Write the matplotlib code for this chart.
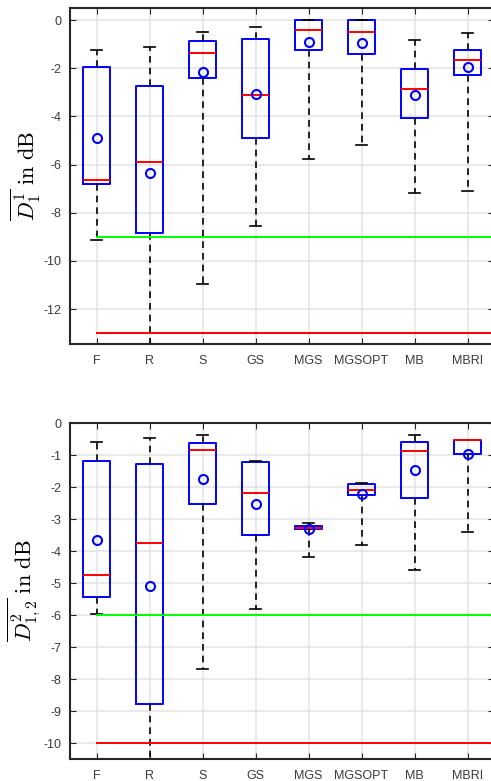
import matplotlib
matplotlib.use("Agg")
import matplotlib.pyplot as plt

methods = ["F", "R", "S", "GS", "MGS", "MGSOPT", "MB", "MBRI"]

# top panel: D_1^1 in dB
top_whislo = [-9.13, -14.0, -10.97, -8.57, -5.76, -5.17, -7.20, -7.10]
top_q1 = [-6.81, -8.85, -2.40, -4.90, -1.26, -1.41, -4.06, -2.27]
top_med = [-6.63, -5.91, -1.36, -3.13, -0.40, -0.49, -2.88, -1.65]
top_q3 = [-1.97, -2.75, -0.86, -0.79, 0.0, 0.0, -2.02, -1.25]
top_whishi = [-1.26, -1.10, -0.51, -0.29, 0.0, 0.0, -0.82, -0.53]
top_mean = [-4.90, -6.34, -2.16, -3.09, -0.90, -0.97, -3.11, -1.96]
top_green = -9.0
top_red = -13.0

# bottom panel: D_{1,2}^2 in dB
bot_whislo = [-5.96, -11.0, -7.69, -5.82, -4.20, -3.81, -4.60, -3.40]
bot_q1 = [-5.45, -8.78, -2.54, -3.51, -3.31, -2.25, -2.34, -0.98]
bot_med = [-4.76, -3.75, -0.85, -2.18, -3.27, -2.08, -0.89, -0.54]
bot_q3 = [-1.18, -1.29, -0.64, -1.23, -3.22, -1.92, -0.58, -0.54]
bot_whishi = [-0.595, -0.48, -0.39, -1.20, -3.13, -1.87, -0.39, -0.52]
bot_mean = [-3.67, -5.08, -1.76, -2.52, -3.32, -2.21, -1.48, -0.98]
bot_green = -6.0
bot_red = -10.0

plt.rcParams["font.family"] = ["Liberation Sans", "DejaVu Sans"]
plt.rcParams["mathtext.fontset"] = "cm"

fig = plt.figure(figsize=(4.91, 7.81), dpi=100)
ax1 = fig.add_axes([70 / 491, 1 - 344 / 781, 424 / 491, 336 / 781])
ax2 = fig.add_axes([70 / 491, 1 - 759 / 781, 424 / 491, 336 / 781])


def draw(ax, lo, q1, med, q3, hi, mean, green, red, ylim, yticks, ylabel):
    stats = []
    for i in range(len(methods)):
        stats.append(dict(label=methods[i], whislo=lo[i], q1=q1[i], med=med[i],
                          q3=q3[i], whishi=hi[i], mean=mean[i], fliers=[]))
    ax.bxp(stats, widths=0.52, capwidths=0.2, showmeans=True,
           boxprops=dict(color="#0000ff", linewidth=1.4),
           medianprops=dict(color="#ff0000", linewidth=1.4),
           whiskerprops=dict(color="black", linewidth=1.2, linestyle=(0, (4, 3))),
           capprops=dict(color="black", linewidth=1.2),
           meanprops=dict(marker="o", markerfacecolor="none",
                          markeredgecolor="#0000ff", markersize=6.5, markeredgewidth=1.5))
    ax.plot([1, 9], [green, green], color="#00ff00", linewidth=1.4)
    ax.plot([1, 9], [red, red], color="#ff0000", linewidth=1.4)
    ax.set_xlim(0.5, 8.5)
    ax.set_ylim(ylim)
    ax.set_yticks(yticks)
    ax.set_yticklabels([str(t) for t in yticks])
    ax.grid(True, color="#e3e3e3", linewidth=1.1)
    ax.set_axisbelow(True)
    ax.tick_params(direction="in", top=True, right=True, labelsize=9,
                   colors="#262626", labelcolor="#3a3a3a", length=4)
    ax.tick_params(axis="x", pad=8)
    ax.tick_params(axis="y", pad=6)
    for s in ax.spines.values():
        s.set_color("#262626")
        s.set_linewidth(1.5)
    ax.set_ylabel(ylabel, fontsize=16, labelpad=1)


draw(ax1, top_whislo, top_q1, top_med, top_q3, top_whishi, top_mean,
     top_green, top_red, (-13.45, 0.5), [-12, -10, -8, -6, -4, -2, 0],
     r"$\overline{D_1^1}\ \mathrm{in\ dB}$")
draw(ax2, bot_whislo, bot_q1, bot_med, bot_q3, bot_whishi, bot_mean,
     bot_green, bot_red, (-10.5, 0), list(range(-10, 1)),
     r"$\overline{D_{1,2}^2}\ \mathrm{in\ dB}$")

fig.savefig("out.png", dpi=100)
